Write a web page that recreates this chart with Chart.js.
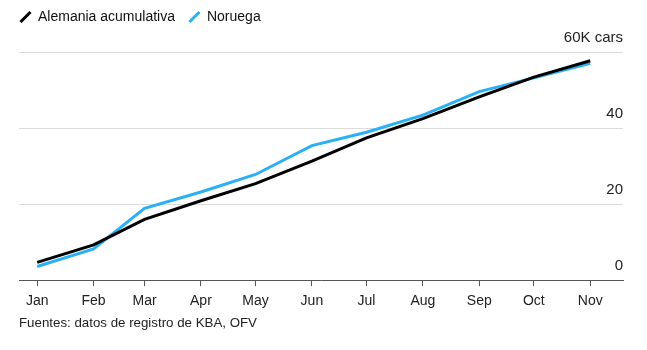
<!DOCTYPE html>
<html lang="es">

<head>
    <meta charset="UTF-8">
    <title>Alemania vs Noruega</title>
    <script src="https://cdn.jsdelivr.net/npm/chart.js"></script>
    <style>
        body {
            margin: 0;
            background: #fff;
        }
        #wrap {
            position: relative;
            width: 647px;
            height: 350px;
        }
        #source {
            position: absolute;
            left: 19px;
            top: 315px;
            font-family: "Liberation Sans", Arial, sans-serif;
            font-size: 13.3px;
            color: #222;
        }
    </style>
</head>

<body>
    <div id="wrap">
        <canvas id="chart"></canvas>
        <div id="source">Fuentes: datos de registro de KBA, OFV</div>
    </div>

    <script>
        // month labels and their day-of-year position (time axis)
        const months = ['Jan', 'Feb', 'Mar', 'Apr', 'May', 'Jun', 'Jul', 'Aug', 'Sep', 'Oct', 'Nov'];
        const monthDays = [0, 31, 59, 90, 120, 151, 181, 212, 243, 273, 304];

        // thousands of cars, cumulative
        const germany = [4.7, 9.3, 16.0, 20.9, 25.4, 31.3, 37.4, 42.5, 48.2, 53.4, 57.7];
        const norway = [3.6, 8.2, 18.9, 23.2, 27.8, 35.4, 38.9, 43.4, 49.6, 53.2, 57.0];

        const yTicks = [0, 20, 40, 60];

        const font = "'Liberation Sans', Arial, sans-serif";

        const toPoints = arr => arr.map((v, i) => ({ x: monthDays[i], y: v }));

        // make room between legend and plot
        const legendSpace = {
            id: 'legendSpace',
            beforeInit(chart) {
                const fit = chart.legend.fit;
                chart.legend.fit = function () {
                    fit.bind(chart.legend)();
                    this.height += 18;
                };
            }
        };

        new Chart(document.getElementById('chart'), {
            type: 'line',
            data: {
                datasets: [{
                    label: 'Alemania acumulativa',
                    data: toPoints(germany),
                    borderColor: '#000',
                    backgroundColor: '#000',
                    borderWidth: 3,
                    pointRadius: 0,
                    pointStyle: 'line',
                    pointRotation: -45,
                    tension: 0
                }, {
                    label: 'Noruega',
                    data: toPoints(norway),
                    borderColor: '#2ab0f5',
                    backgroundColor: '#2ab0f5',
                    borderWidth: 3,
                    pointRadius: 0,
                    pointStyle: 'line',
                    pointRotation: -45,
                    tension: 0
                }]
            },
            options: {
                responsive: true,
                maintainAspectRatio: false,
                animation: false,
                layout: {
                    padding: { left: 6, right: 24, top: -4, bottom: 33 }
                },
                plugins: {
                    legend: {
                        position: 'top',
                        align: 'start',
                        labels: {
                            usePointStyle: true,
                            boxWidth: 11,
                            boxHeight: 10,
                            padding: 14,
                            color: '#111',
                            font: { family: font, size: 14 }
                        }
                    },
                    tooltip: { enabled: false }
                },
                scales: {
                    x: {
                        type: 'linear',
                        min: -10,
                        max: 322,
                        afterBuildTicks: scale => {
                            scale.ticks = monthDays.map(d => ({ value: d }));
                        },
                        ticks: {
                            callback: (v, i) => months[i],
                            color: '#222',
                            padding: 7,
                            maxRotation: 0,
                            autoSkip: false,
                            font: { family: font, size: 14 }
                        },
                        grid: {
                            drawOnChartArea: false,
                            drawTicks: true,
                            tickLength: 6,
                            color: '#555'
                        },
                        border: { display: true, color: '#555', width: 1 }
                    },
                    y: {
                        position: 'right',
                        min: 0,
                        max: 60,
                        afterBuildTicks: scale => {
                            scale.ticks = yTicks.map(v => ({ value: v }));
                        },
                        ticks: {
                            mirror: true,
                            padding: 0,
                            labelOffset: -14,
                            color: '#222',
                            font: { family: font, size: 15 },
                            callback: v => v === 60 ? '60K cars' : v
                        },
                        grid: {
                            color: '#dcdcdc',
                            drawTicks: false
                        },
                        border: { display: false }
                    },
                    // empty axis to push the plot away from the left edge
                    pad: {
                        type: 'linear',
                        position: 'left',
                        grid: { display: false, drawTicks: false },
                        border: { display: false },
                        ticks: { display: false },
                        afterFit: scale => { scale.width = 13; }
                    }
                }
            },
            plugins: [legendSpace]
        });
    </script>
</body>

</html>
